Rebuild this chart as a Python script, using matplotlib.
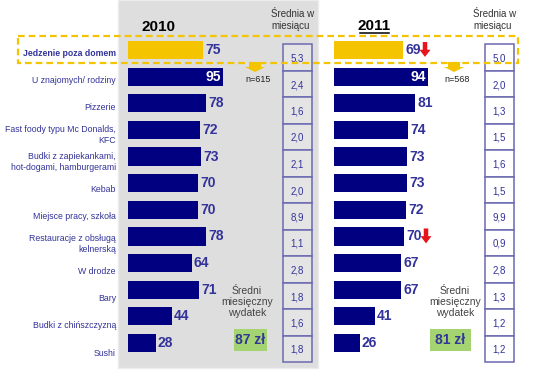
import matplotlib
matplotlib.use("Agg")
import matplotlib.pyplot as plt
from matplotlib.patches import Rectangle, FancyArrow

plt.rcParams["font.family"] = ["Liberation Sans", "DejaVu Sans"]

# --- data ---
categories = [
    "Jedzenie poza domem", "U znajomych/ rodziny", "Pizzerie",
    "Fast foody typu Mc Donalds,\nKFC", "Budki z zapiekankami,\nhot-dogami, hamburgerami",
    "Kebab", "Miejsce pracy, szkoła", "Restauracje z obsługą\nkelnerską",
    "W drodze", "Bary", "Budki z chińszczyzną", "Sushi",
]
pct_2010 = [75, 95, 78, 72, 73, 70, 70, 78, 64, 71, 44, 28]
pct_2011 = [69, 94, 81, 74, 73, 73, 72, 70, 67, 67, 41, 26]
freq_2010 = ["5,3", "2,4", "1,6", "2,0", "2,1", "2,0", "8,9", "1,1", "2,8", "1,8", "1,6", "1,8"]
freq_2011 = ["5,0", "2,0", "1,3", "1,5", "1,6", "1,5", "9,9", "0,9", "2,8", "1,3", "1,2", "1,2"]
down_2011 = [0, 7]          # rows marked with red arrow in 2011
spend_2010 = "87 zł"
spend_2011 = "81 zł"
n_2010 = "n=615"
n_2011 = "n=568"

NAVY = "#000080"
TXT = "#33339a"
GOLD = "#f5c400"
W, H = 557, 378

fig = plt.figure(figsize=(W / 100, H / 100), dpi=100)
bg = fig.add_axes([0, 0, 1, 1])
bg.set_xlim(0, W)
bg.set_ylim(H, 0)
bg.axis("off")

# grey 2010 panel
bg.add_patch(Rectangle((118, 0), 200, 368, facecolor="#dedede", edgecolor="#ececec", lw=1, zorder=0))

# headers
bg.text(159, 27, "2010", ha="center", va="center", fontsize=11, fontweight="bold")
bg.text(374, 26, "2011", ha="center", va="center", fontsize=11, fontweight="bold")
bg.plot([360, 389], [33, 33], color="black", lw=1.1)
for x in (271, 473):
    bg.text(x, 20, "Średnia w\nmiesiącu", ha="left", va="center", fontsize=7,
            color="#333333", linespacing=1.2)

# category labels
for i, lab in enumerate(categories):
    bg.text(116, 53 + 27.3 * i, lab, ha="right", va="center", fontsize=6.3, color=TXT,
            fontweight="bold" if i == 0 else "normal", linespacing=1.35)


def bar_panel(left, values, down):
    top, bottom = 36.7, 356.3
    ax = fig.add_axes([left / W, 1 - bottom / H, 155 / W, (bottom - top) / H])
    ax.set_xlim(0, 155)
    ax.set_ylim(11.5, -0.5)
    ax.axis("off")
    colors = [GOLD] + [NAVY] * (len(values) - 1)
    ax.barh(range(len(values)), values, height=0.68, color=colors)
    for i, v in enumerate(values):
        if v >= 90:
            ax.text(v - 2, i, str(v), ha="right", va="center", color="white",
                    fontsize=10, fontweight="bold")
        else:
            ax.text(v + 2, i, str(v), ha="left", va="center", color=TXT,
                    fontsize=10, fontweight="bold")
    for i in down:
        x = values[i] + 22
        ax.add_patch(FancyArrow(x, i - 0.3, 0, 0.56, width=4.5, head_width=11,
                                head_length=0.27, length_includes_head=True,
                                color="#e8141c", lw=0))
    return ax


bar_panel(128, pct_2010, [])
bar_panel(334, pct_2011, down_2011)

# monthly frequency boxes
for x0, vals, face in ((283, freq_2010, "#e4e4e4"), (485, freq_2011, "white")):
    for i, v in enumerate(vals):
        y0 = 44 + 26.5 * i
        bg.add_patch(Rectangle((x0, y0), 28.5, 26.5, facecolor=face, edgecolor="#6a6ab0", lw=1.1))
        bg.text(x0 + 14.25, y0 + 14.5, v, ha="center", va="center", fontsize=7, color=TXT)

# dashed highlight box
bg.add_patch(Rectangle((18, 36), 500, 26.5, fill=False, edgecolor=GOLD, lw=1.6,
                       linestyle=(0, (3, 1.8)), zorder=5))

# yellow arrows + sample size
for xc, n in ((255, n_2010), (454, n_2011)):
    bg.add_patch(FancyArrow(xc, 62, 0, 10, width=12, head_width=20, head_length=5,
                            length_includes_head=True, color=GOLD, lw=0, zorder=6))
    bg.text(xc + 3, 80, n, ha="center", va="center", fontsize=6.5, color="#222222")

# average monthly spend
for xc, val, bx in ((247, spend_2010, (234, 33)), (455, spend_2011, (430, 41))):
    bg.text(xc, 302, "Średni\nmiesięczny\nwydatek", ha="center", va="center",
            fontsize=7.5, color="#444444", linespacing=1.1)
    bg.add_patch(Rectangle((bx[0], 329), bx[1], 22, facecolor="#a3d471", edgecolor="none"))
    bg.text(bx[0] + bx[1] / 2, 340, val, ha="center", va="center", fontsize=10,
            fontweight="bold", color=TXT)

fig.savefig("out.png", dpi=100)
